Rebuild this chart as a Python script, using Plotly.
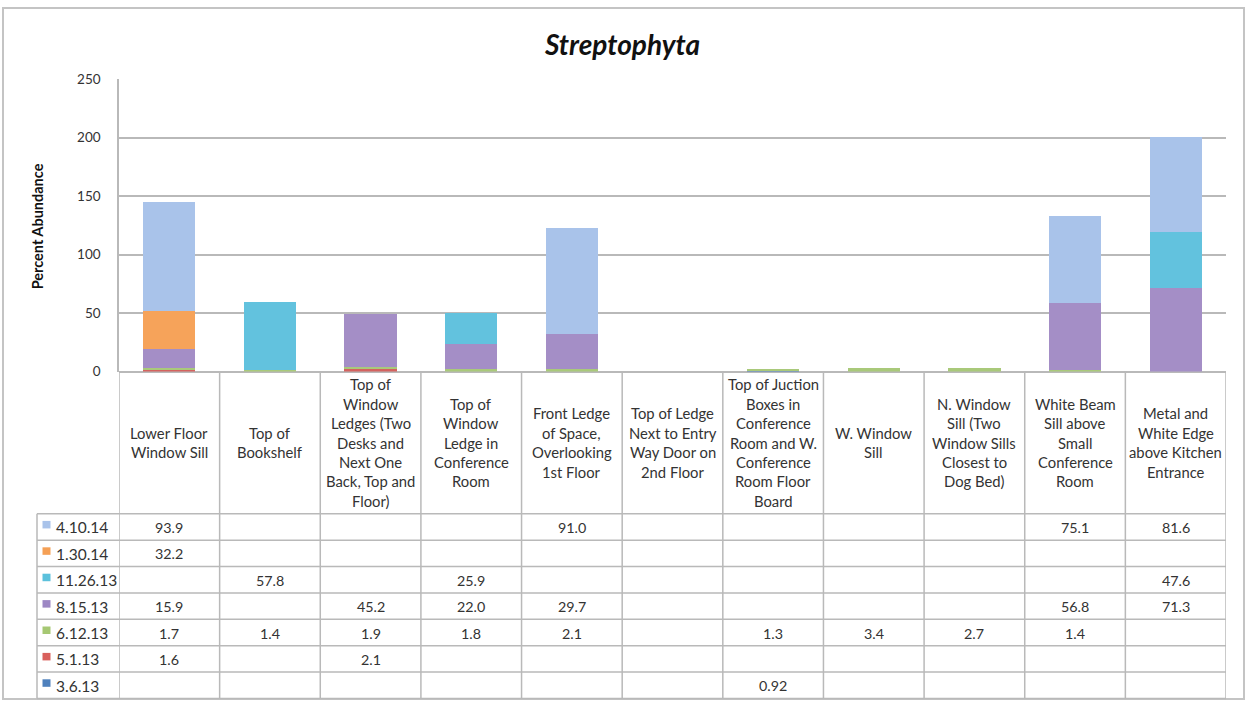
import plotly.graph_objects as go

# ---------------- data ----------------
categories = [
    "Lower Floor<br>Window Sill",
    "Top of<br>Bookshelf",
    "Top of<br>Window<br>Ledges (Two<br>Desks and<br>Next One<br>Back, Top and<br>Floor)",
    "Top of<br>Window<br>Ledge in<br>Conference<br>Room",
    "Front Ledge<br>of Space,<br>Overlooking<br>1st Floor",
    "Top of Ledge<br>Next to Entry<br>Way Door on<br>2nd Floor",
    "Top of Juction<br>Boxes in<br>Conference<br>Room and W.<br>Conference<br>Room Floor<br>Board",
    "W. Window<br>Sill",
    "N. Window<br>Sill (Two<br>Window Sills<br>Closest to<br>Dog Bed)",
    "White Beam<br>Sill above<br>Small<br>Conference<br>Room",
    "Metal and<br>White Edge<br>above Kitchen<br>Entrance",
]

N = None
# series listed in table order (top row first)
series_names = ["4.10.14", "1.30.14", "11.26.13", "8.15.13", "6.12.13", "5.1.13", "3.6.13"]
s_4_10_14 = [93.9, N, N, N, 91.0, N, N, N, N, 75.1, 81.6]
s_1_30_14 = [32.2, N, N, N, N, N, N, N, N, N, N]
s_11_26_13 = [N, 57.8, N, 25.9, N, N, N, N, N, N, 47.6]
s_8_15_13 = [15.9, N, 45.2, 22.0, 29.7, N, N, N, N, 56.8, 71.3]
s_6_12_13 = [1.7, 1.4, 1.9, 1.8, 2.1, N, 1.3, 3.4, 2.7, 1.4, N]
s_5_1_13 = [1.6, N, 2.1, N, N, N, N, N, N, N, N]
s_3_6_13 = [N, N, N, N, N, N, 0.92, N, N, N, N]
series_values = [s_4_10_14, s_1_30_14, s_11_26_13, s_8_15_13, s_6_12_13, s_5_1_13, s_3_6_13]
series_colors = ["#a9c3ea", "#f6a35a", "#62c2de", "#a48ec6", "#a9c97a", "#d4625f", "#4f81bd"]
legend_colors = ["#a9c3ea", "#f5a055", "#5cc1dc", "#9d87c4", "#a6c873", "#d9605c", "#4f81bd"]

y_ticks = [0, 50, 100, 150, 200, 250]

# ---------------- layout geometry (pixels) ----------------
W, H = 1247, 707
# observed mapping of the rendered page: the figure paper spans about y=8..698
Y0, YSPAN = 8.0, 690.0
def px(x):
    return x / W
def py(y):
    return 1 - (y - Y0) / YSPAN

PLOT_L, PLOT_R, PLOT_T, PLOT_B = 119, 1226, 79, 371
HEAD_B = 513
TABLE_B = 697.5
LEG_L = 37
ROW_H = (TABLE_B - HEAD_B) / len(series_names)
GRID = "#b9b9b9"
FONT = "Lato"
TXT = "#333333"

fig = go.Figure()

# stacked bars: bottom of stack is last table row
for name, vals, col in reversed(list(zip(series_names, series_values, series_colors))):
    fig.add_trace(go.Bar(
        x=categories, y=vals, name=name,
        marker=dict(color=col, line=dict(width=0)),
        hoverinfo="skip",
    ))

shapes = []
annotations = []

# table vertical lines (aligned with category axis)
for i in range(len(categories) + 1):
    shapes.append(dict(type="line", xref="x", yref="paper",
                       x0=i - 0.5, x1=i - 0.5, y0=py(PLOT_B), y1=py(TABLE_B),
                       line=dict(color=GRID, width=1.5)))
# legend column left line
shapes.append(dict(type="line", xref="paper", yref="paper",
                   x0=px(LEG_L), x1=px(LEG_L), y0=py(HEAD_B), y1=py(TABLE_B),
                   line=dict(color=GRID, width=1.5)))
# horizontal row lines
for r in range(len(series_names) + 1):
    yy = HEAD_B + r * ROW_H
    shapes.append(dict(type="line", xref="paper", yref="paper",
                       x0=px(LEG_L), x1=px(PLOT_R), y0=py(yy), y1=py(yy),
                       line=dict(color=GRID, width=1.5)))

# header labels (one annotation per line for Excel-like line spacing)
LINE_SP = 19.4
head_c = (PLOT_B + HEAD_B) / 2
for i, cat in enumerate(categories):
    lines = cat.split("<br>")
    n = len(lines)
    for k, ln in enumerate(lines):
        yc = head_c + (k - (n - 1) / 2) * LINE_SP
        annotations.append(dict(xref="x", yref="paper", x=i, y=py(yc),
                                text=ln, showarrow=False, xanchor="center", yanchor="middle",
                                font=dict(family=FONT, size=14.8, color=TXT)))

# table value cells and legend keys
def fmt(v):
    return f"{v:.1f}" if v >= 1 else f"{v:.2f}"

for r, (name, vals, lc) in enumerate(zip(series_names, series_values, legend_colors)):
    yc = HEAD_B + (r + 0.5) * ROW_H
    shapes.append(dict(type="rect", xref="paper", yref="paper",
                       x0=px(42.5), x1=px(50.5), y0=py(yc - 6), y1=py(yc + 1.5),
                       fillcolor=lc, line=dict(width=0)))
    annotations.append(dict(xref="paper", yref="paper", x=px(54), y=py(yc + 0.5),
                            text=name, showarrow=False, xanchor="left", yanchor="middle",
                            font=dict(family=FONT, size=15.5, color=TXT)))
    for i, v in enumerate(vals):
        if v is None:
            continue
        annotations.append(dict(xref="x", yref="paper", x=i, y=py(yc + 0.5),
                                text=fmt(v), showarrow=False, xanchor="center", yanchor="middle",
                                font=dict(family=FONT, size=14.3, color=TXT)))

# title and y-axis title
annotations.append(dict(xref="paper", yref="paper", x=px(622), y=py(44),
                        text="<b><i>Streptophyta</i></b>", showarrow=False,
                        xanchor="center", yanchor="middle",
                        font=dict(family=FONT, size=28, color="#111111")))
annotations.append(dict(xref="paper", yref="paper", x=px(37), y=py(226),
                        text="<b>Percent Abundance</b>", showarrow=False, textangle=-90,
                        xanchor="center", yanchor="middle",
                        font=dict(family=FONT, size=14.5, color="#111111")))

# outer chart border
shapes.append(dict(type="rect", xref="paper", yref="paper",
                   x0=px(3), x1=px(1244), y0=0.0, y1=1.0,
                   line=dict(color="#c4c4c4", width=2), fillcolor="rgba(0,0,0,0)", layer="below"))

fig.update_layout(
    width=W, height=H,
    margin=dict(l=0, r=0, t=0, b=0),
    paper_bgcolor="white", plot_bgcolor="white",
    barmode="stack", bargap=0.48,
    showlegend=False,
    shapes=shapes, annotations=annotations,
    xaxis=dict(domain=[px(PLOT_L), px(PLOT_R)], type="category",
               range=[-0.5, len(categories) - 0.5],
               showticklabels=False, showgrid=False, zeroline=False, showline=False,
               fixedrange=True),
    yaxis=dict(domain=[py(PLOT_B), py(PLOT_T)], range=[0, 250],
               tickvals=y_ticks, ticktext=[str(t) for t in y_ticks],
               showgrid=True, gridcolor=GRID, gridwidth=1.5,
               zeroline=True, zerolinecolor=GRID, zerolinewidth=1.5,
               showline=True, linecolor=GRID, linewidth=1.5,
               ticks="", ticklabelstandoff=14,
               tickfont=dict(family=FONT, size=13.5, color="#333333"),
               fixedrange=True),
)

post = """
document.documentElement.style.margin='0';
document.documentElement.style.padding='0';
document.body.style.margin='0';
document.body.style.padding='0';
document.body.style.overflow='hidden';
var gd = document.getElementById('{plot_id}');
gd.style.position='fixed'; gd.style.left='0px'; gd.style.top='0px';
"""

fig.write_html("out.html", config={"displayModeBar": False}, post_script=post)
